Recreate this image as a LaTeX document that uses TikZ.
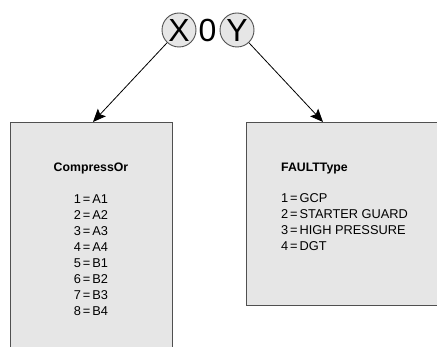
\documentclass[tikz,border=0pt]{standalone}
\usepackage{fontspec}
\setmainfont{Liberation Sans}
\usetikzlibrary{arrows.meta}
\definecolor{boxfill}{HTML}{E6E6E6}
\definecolor{boxline}{HTML}{505050}
\newcommand{\eqs}{\hspace{0.15em}=\hspace{0.15em}}
\begin{document}
\begin{tikzpicture}[x=1pt,y=-1pt,
  panel/.style={draw=boxline, fill=boxfill, line width=0.9pt, inner sep=0pt},
  circ/.style={circle, draw=boxline, fill=boxfill, line width=0.9pt, inner sep=0pt, minimum size=34pt, font=\fontsize{32}{34}\selectfont},
  big/.style={inner sep=0pt, font=\fontsize{32}{34}\selectfont},
  txt/.style={inner sep=0pt, font=\fontsize{12.8}{14}\selectfont},
  ttl/.style={inner sep=0pt, font=\fontsize{12.3}{14}\selectfont\bfseries},
  conn/.style={draw=black, line width=0.8pt, -{Stealth[length=13pt,width=11pt,inset=2.5pt]}}]
\useasboundingbox (0,0) rectangle (437,347);
\begin{scope}
\clip (0,0) rectangle (437,347);
\node[panel, anchor=north west, minimum width=162.5pt, minimum height=240pt] (cb) at (9.5,122) {};
\end{scope}
\node[panel, anchor=north west, minimum width=190.8pt, minimum height=183pt] (fb) at (245.7,122) {};
\node[circ] (X) at (179,30) {X};
\node[big] (zero) at (207.5,30) {0};
\node[circ] (Y) at (237,30) {Y};
\coordinate (lt) at (93,122);
\coordinate (rt) at (323,122);
\draw[conn] (X) -- (lt);
\draw[conn] (Y) -- (rt);
\node[ttl, anchor=base] (ct) at (91,172) {CompressOr};
\foreach \n/\t [count=\i from 0] in {1/A1,2/A2,3/A3,4/A4,5/B1,6/B2,7/B3,8/B4}
  \node[txt, anchor=base] (c\n) at (91,204+15.9*\i) {\n\eqs\t};
\node[ttl, anchor=base west] (ft) at (281,172) {FAULTType};
\foreach \n/\t [count=\i from 0] in {1/GCP,2/STARTER GUARD,3/HIGH PRESSURE,4/DGT}
  \node[txt, anchor=base west] (f\n) at (281,203+16*\i) {\n\eqs\t};
\end{tikzpicture}
\end{document}
